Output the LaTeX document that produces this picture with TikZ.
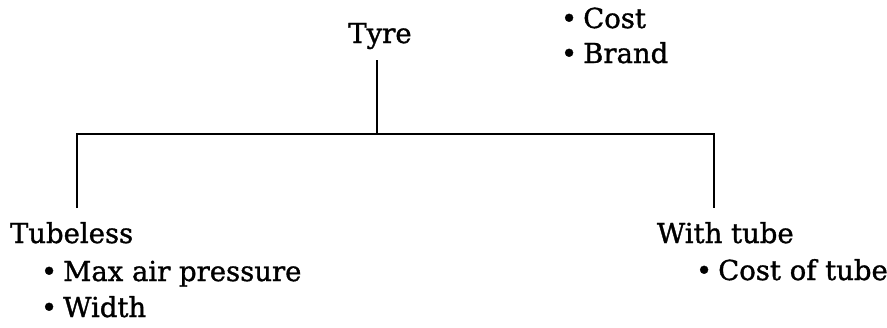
\documentclass[tikz,border=0pt]{standalone}
\usepackage{fontspec}
\setmainfont{DejaVu Serif}[FakeBold=1.2]
\newcommand{\bulitem}[1]{•\kern6pt #1}
\begin{document}
\begin{tikzpicture}[x=1pt,y=-1pt,
  lbl/.style={inner sep=0pt,outer sep=0pt,anchor=base west,font=\fontsize{27.5}{31}\selectfont},
  conn/.style={line width=2.4pt}]
\useasboundingbox (0,0) rectangle (887,327);
\node[lbl,anchor=base] (tyre) at (380,43) {Tyre};
\node[lbl] (cost) at (561,28) {\bulitem{Cost}};
\node[lbl] (brand) at (561,63) {\bulitem{Brand}};
\node[lbl] (tubeless) at (10,243) {Tubeless};
\node[lbl] (maxair) at (41,281) {\bulitem{Max air pressure}};
\node[lbl] (width) at (41,317) {\bulitem{Width}};
\node[lbl] (withtube) at (657,243) {With tube};
\node[lbl] (costtube) at (696,280) {\bulitem{Cost of tube}};
\coordinate (top) at (377,60);
\coordinate (hub) at (377,134);
\coordinate (lc) at (77,134);
\coordinate (lb) at (77,208);
\coordinate (rc) at (714,134);
\coordinate (rb) at (714,208);
\draw[conn] (top) -- (hub);
\draw[conn] (lb) -- (lc) -- (rc) -- (rb);
\end{tikzpicture}
\end{document}
